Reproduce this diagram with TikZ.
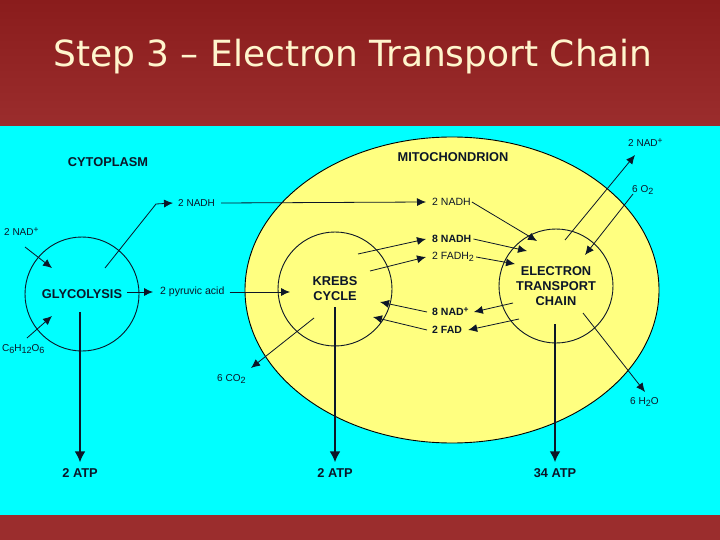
\documentclass[tikz,border=0pt]{standalone}
\usepackage{fontspec}
\setmainfont{Liberation Sans}
\newfontfamily\titlefont{DejaVu Sans}
\usetikzlibrary{arrows.meta,shapes.geometric}
\definecolor{bgred}{RGB}{138,28,28}
\definecolor{bgredlight}{RGB}{155,45,45}
\definecolor{aqua}{RGB}{0,255,255}
\definecolor{mitoyellow}{RGB}{255,255,128}
\definecolor{titlecream}{RGB}{255,245,205}
\definecolor{ink}{RGB}{12,22,40}
\newcommand\lsub[1]{\raisebox{-0.45ex}{\fontsize{9}{10}\selectfont #1}}
\newcommand\lsup[1]{\raisebox{0.55ex}{\fontsize{8.5}{10}\selectfont #1}}
\tikzset{
  big/.style={font=\bfseries\fontsize{12.8}{15}\selectfont, text=ink, inner sep=0pt, align=center},
  small/.style={font=\fontsize{10}{12}\selectfont, text=ink, inner sep=0pt, anchor=west},
  smallbold/.style={small, font=\bfseries\fontsize{10}{12}\selectfont},
  arr/.style={-{Latex[length=9pt,width=8pt]}, line width=0.8pt, draw=ink},
  atparr/.style={-{Latex[length=11pt,width=11pt]}, line width=2pt, draw=ink},
  cell/.style={circle, draw=ink, line width=0.9pt, minimum size=114pt, inner sep=0pt, big},
}
\begin{document}
\begin{tikzpicture}[x=1pt,y=-1pt]
\useasboundingbox (0,0) rectangle (720,540);
% backgrounds
\shade[top color=bgred, bottom color=bgredlight] (0,0) rectangle (720,126);
\fill[aqua] (0,126) rectangle (720,515);
\fill[bgredlight] (0,515) rectangle (720,540);
\node[font=\titlefont\fontsize{36}{40}\selectfont, text=titlecream, anchor=base, inner sep=0pt] (title) at (353,67) {Step 3 – Electron Transport Chain};
% mitochondrion
\node[ellipse, draw=black, line width=0.9pt, fill=mitoyellow, minimum width=414pt, minimum height=306pt, inner sep=0pt] (mito) at (452,290) {};
% circles
\node[cell] (gly) at (82,294) {GLYCOLYSIS};
\node[cell] (krebs) at (335,289) {KREBS\\CYCLE};
\node[cell] (etc) at (556,286) {ELECTRON\\TRANSPORT\\CHAIN};
% region labels
\node[big] (cyto) at (108,162) {CYTOPLASM};
\node[big] (mitolab) at (453,157) {MITOCHONDRION};
% small labels
\node[small] (nadhC) at (178,203) {2 NADH};
\node[small, font=\fontsize{10.5}{12}\selectfont] (nadhM) at (432,202) {2 NADH};
\node[smallbold, font=\bfseries\fontsize{10.5}{12}\selectfont] (nadh8) at (432,239) {8 NADH};
\node[small, font=\fontsize{10.5}{12}\selectfont] (fadh2) at (432,257) {2 FADH\lsub{2}};
\node[smallbold, font=\bfseries\fontsize{10.5}{12}\selectfont] (nad8) at (432,312) {8 NAD\lsup{+}};
\node[smallbold, font=\bfseries\fontsize{10.5}{12}\selectfont] (fad) at (432,330) {2 FAD};
\node[small, font=\fontsize{10.5}{12}\selectfont] (pyr) at (160,292) {2 pyruvic acid};
\node[small] (nadL) at (4,232) {2 NAD\lsup{+}};
\node[small] (glu) at (2,349) {C\lsub{6}H\lsub{12}O\lsub{6}};
\node[small] (co2) at (217,379) {6 CO\lsub{2}};
\node[small] (nadR) at (628,143) {2 NAD\lsup{+}};
\node[small] (o2) at (632,190) {6 O\lsub{2}};
\node[small] (h2o) at (630,402) {6 H\lsub{2}O};
\node[big] (atp1) at (80,473) {2 ATP};
\node[big] (atp2) at (335,473) {2 ATP};
\node[big] (atp3) at (555,473) {34 ATP};
% coordinates
\coordinate (gNadh) at (105,268);
\coordinate (bend) at (156,204);
\coordinate (gPyr) at (127,292);
\coordinate (kPyr) at (290,292);
\coordinate (kNadh) at (358,254);
\coordinate (kFadh) at (370,271);
\coordinate (kNad) at (380,302);
\coordinate (kFad) at (373,317);
\coordinate (kCo2) at (314,318);
\coordinate (co2tip) at (251,368);
\coordinate (eNadhA) at (537,241);
\coordinate (eNadhB) at (527,251);
\coordinate (eFadh) at (515,264);
\coordinate (eNad) at (513,303);
\coordinate (eFad) at (519,319);
\coordinate (eNadR) at (565,240);
\coordinate (nadRtip) at (635,155);
\coordinate (o2start) at (633,194);
\coordinate (eO2) at (585,255);
\coordinate (eH2o) at (583,313);
\coordinate (h2otip) at (645,392);
\coordinate (nadLstart) at (25,247);
\coordinate (gNadL) at (52,268);
\coordinate (glustart) at (27,338);
\coordinate (gGlu) at (52,316);
\coordinate (gAtp) at (80,312);
\coordinate (kAtp) at (335,307);
\coordinate (eAtp) at (555,324);
% connectors
\draw[arr] (gNadh) -- (bend) -- ([xshift=-5pt]nadhC.west);
\draw[arr] ([xshift=6pt]nadhC.east) -- ([xshift=-6pt]nadhM.west);
\draw[arr] ([xshift=1pt]nadhM.east) -- (eNadhA);
\draw[arr] (kNadh) -- ([xshift=-6pt]nadh8.west);
\draw[arr] ([xshift=2pt]nadh8.east) -- (eNadhB);
\draw[arr] (kFadh) -- ([xshift=-6pt]fadh2.west);
\draw[arr] ([xshift=2pt]fadh2.east) -- (eFadh);
\draw[arr] (eNad) -- ([xshift=5pt]nad8.east);
\draw[arr] ([xshift=-5pt]nad8.west) -- (kNad);
\draw[arr] (eFad) -- ([xshift=6pt]fad.east);
\draw[arr] ([xshift=-5pt]fad.west) -- (kFad);
\draw[arr] (gPyr) -- ([xshift=-7pt]pyr.west);
\draw[arr] ([xshift=5pt]pyr.east) -- (kPyr);
\draw[arr] (nadLstart) -- (gNadL);
\draw[arr] (glustart) -- (gGlu);
\draw[arr] (kCo2) -- (co2tip);
\draw[arr] (eNadR) -- (nadRtip);
\draw[arr] (o2start) -- (eO2);
\draw[arr] (eH2o) -- (h2otip);
\draw[atparr] (gAtp) -- ([yshift=6pt]atp1.north);
\draw[atparr] (kAtp) -- ([yshift=6pt]atp2.north);
\draw[atparr] (eAtp) -- ([yshift=6pt]atp3.north);
\end{tikzpicture}
\end{document}
